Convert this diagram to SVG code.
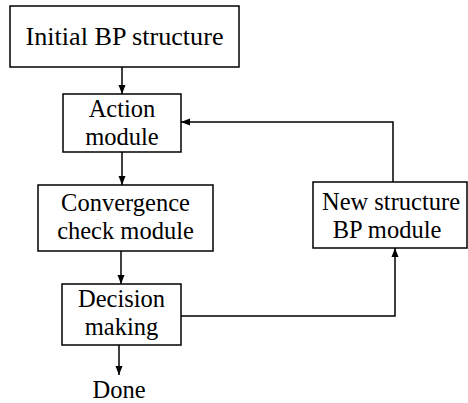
<svg xmlns="http://www.w3.org/2000/svg" width="468" height="403" viewBox="0 0 468 403">
<defs>
<marker id="ah" markerWidth="9" markerHeight="8" refX="9" refY="4" orient="auto" markerUnits="userSpaceOnUse">
<path d="M0,0.5 L9,4 L0,7.5 Z" fill="#000"/>
</marker>
<style>
.box{fill:#fff;stroke:#000;stroke-width:1.5}
.t{font-family:"Liberation Serif","Times New Roman",serif;font-size:24.5px;fill:#000;text-anchor:middle}
.c{fill:none;stroke:#000;stroke-width:1.5}
</style>
</defs>
<rect width="468" height="403" fill="#fff"/>
<g id="connectors">
<path class="c" d="M122,67 V94" marker-end="url(#ah)"/>
<path class="c" d="M122,152 V185" marker-end="url(#ah)"/>
<path class="c" d="M121,251 V284" marker-end="url(#ah)"/>
<path class="c" d="M119,345 V375" marker-end="url(#ah)"/>
<path class="c" d="M181,316 H395 V248" marker-end="url(#ah)"/>
<path class="c" d="M393,182 V122 H181" marker-end="url(#ah)"/>
</g>
<g id="initial">
<rect class="box" x="10" y="6" width="229" height="61"/>
<text class="t" x="124.5" y="45" textLength="198" lengthAdjust="spacingAndGlyphs">Initial BP structure</text>
</g>
<g id="action">
<rect class="box" x="63" y="94" width="118" height="58"/>
<text class="t" x="122" y="117">Action</text>
<text class="t" x="122" y="145">module</text>
</g>
<g id="convergence">
<rect class="box" x="38" y="185" width="175" height="66"/>
<text class="t" x="125.5" y="211">Convergence</text>
<text class="t" x="125.5" y="239">check module</text>
</g>
<g id="decision">
<rect class="box" x="62" y="284" width="119" height="61"/>
<text class="t" x="121.5" y="307">Decision</text>
<text class="t" x="121.5" y="335">making</text>
</g>
<g id="newstructure">
<rect class="box" x="313" y="182" width="154" height="66"/>
<text class="t" x="391" y="210">New structure</text>
<text class="t" x="387" y="238">BP module</text>
</g>
<g id="done">
<text class="t" x="119" y="398">Done</text>
</g>
</svg>
